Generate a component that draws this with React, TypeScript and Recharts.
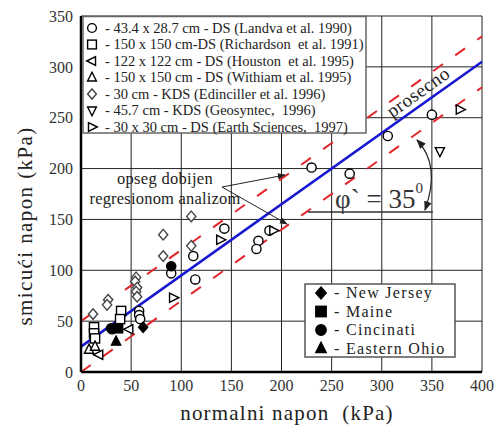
import { ScatterChart, Scatter, XAxis, YAxis, CartesianGrid, ReferenceLine } from "recharts"

const xTicks = [0, 50, 100, 150, 200, 250, 300, 350, 400]
const yTicks = [0, 50, 100, 150, 200, 250, 300, 350]

// [x0, y0, x1, y1] of the fitted lines
const upperBound = [0, 50, 400, 330]
const meanLine = [0, 25, 400, 305]
const lowerBound = [0, 0, 400, 280]

// measured points [normal stress, shear stress]
const landva = [
  [230, 201], [268, 195], [306, 232], [350, 253], [143, 141], [177, 129], [175, 121],
  [188, 139], [112, 114], [114, 91], [90, 97], [58, 60], [58, 56], [59, 52], [31, 42],
]
const richardson = [[40, 60], [39, 52], [13, 44], [13, 38], [14, 33]]
const houston = [[18, 17], [48, 42]]
const withiam = [[8, 22], [14, 25]]
const edinciller = [
  [110, 153], [110, 124], [82, 135], [82, 114], [55, 93], [54, 89], [56, 83], [55, 79],
  [56, 74], [27, 71], [26, 66], [12, 57],
]
const geosyntec = [[358, 217]]
const earthSciences = [[92, 73], [139, 130], [192, 139], [378, 258]]
const newJersey = [[62, 44]]
const maine = [[37, 43]]
const cincinati = [[90, 104], [30, 43]]
const easternOhio = [[35, 30]]

const topLabels = [
  "- 43.4 x 28.7 cm - DS (Landva et al. 1990)",
  "- 150 x 150 cm-DS (Richardson  et al. 1991)",
  "- 122 x 122 cm - DS (Houston  et al. 1995)",
  "- 150 x 150 cm - DS (Withiam et al. 1995)",
  "- 30 cm - KDS (Edinciller et al. 1996)",
  "- 45.7 cm - KDS (Geosyntec,  1996)",
  "- 30 x 30 cm - DS (Earth Sciences,  1997)",
]
const bottomLabels = ["- New Jersey", "- Maine", "- Cincinati", "- Eastern Ohio"]

const series = [
  { data: landva, kind: "circle", filled: false },
  { data: richardson, kind: "square", filled: false },
  { data: houston, kind: "left", filled: false },
  { data: withiam, kind: "up", filled: false },
  { data: edinciller, kind: "diamond", filled: false },
  { data: geosyntec, kind: "down", filled: false },
  { data: earthSciences, kind: "right", filled: false },
  { data: newJersey, kind: "diamond", filled: true },
  { data: maine, kind: "square", filled: true },
  { data: cincinati, kind: "circle", filled: true },
  { data: easternOhio, kind: "up", filled: true },
]

const FONT = "Liberation Serif, Times New Roman, DejaVu Serif, serif"

function Marker({ kind, cx, cy, filled, s = 4.6 }: any) {
  const p = {
    fill: filled ? "#000" : "#fff",
    stroke: kind === "diamond" && !filled ? "#444" : "#000",
    strokeWidth: 1.4,
  }
  switch (kind) {
    case "circle":
      return <circle cx={cx} cy={cy} r={s} {...p} />
    case "square":
      return <rect x={cx - s} y={cy - s} width={2 * s} height={2 * s} {...p} />
    case "diamond":
      return <polygon points={`${cx},${cy - s * 1.15} ${cx + s},${cy} ${cx},${cy + s * 1.15} ${cx - s},${cy}`} {...p} />
    case "up":
      return <polygon points={`${cx},${cy - s * 1.2} ${cx + s},${cy + s * 0.8} ${cx - s},${cy + s * 0.8}`} {...p} />
    case "down":
      return <polygon points={`${cx},${cy + s * 1.2} ${cx + s},${cy - s * 0.8} ${cx - s},${cy - s * 0.8}`} {...p} />
    case "left":
      return <polygon points={`${cx - s * 1.2},${cy} ${cx + s * 0.8},${cy - s} ${cx + s * 0.8},${cy + s}`} {...p} />
    default:
      return <polygon points={`${cx + s * 1.2},${cy} ${cx - s * 0.8},${cy - s} ${cx - s * 0.8},${cy + s}`} {...p} />
  }
}

const seg = (l: number[]) => [{ x: l[0], y: l[1] }, { x: l[2], y: l[3] }]

export default function App() {
  const tick = { fontSize: 16, fill: "#333", style: { fontFamily: FONT } }
  return (
    <div style={{ position: "relative", width: 479, height: 409, overflow: "visible", fontFamily: FONT }}>
      <style>{"html, body, #root { overflow: visible !important; }"}</style>
      <ScatterChart width={487} height={417} margin={{ top: 8, right: 13, bottom: 0, left: 0 }} style={{ overflow: "visible" }}>
        <CartesianGrid stroke="#222" strokeWidth={1} strokeOpacity={1} />
        <XAxis
          type="number"
          dataKey="x"
          domain={[0, 400]}
          ticks={xTicks}
          height={53}
          tickLine={false}
          axisLine={{ stroke: "#000", strokeWidth: 2.5 }}
          tick={tick}
          interval={0}
        />
        <YAxis
          type="number"
          dataKey="y"
          domain={[0, 350]}
          ticks={yTicks}
          width={73}
          tickLine={false}
          axisLine={{ stroke: "#000", strokeWidth: 2.5 }}
          tick={tick}
          interval={0}
        />
        <ReferenceLine segment={seg(upperBound)} stroke="#e3262b" strokeWidth={2} strokeDasharray="12 15" />
        <ReferenceLine segment={seg(lowerBound)} stroke="#e3262b" strokeWidth={2} strokeDasharray="12 15" />
        <ReferenceLine segment={seg(meanLine)} stroke="#1818d0" strokeWidth={2.6} />
        {series.map((s, i) => (
          <Scatter
            key={i}
            data={s.data.map(([x, y]) => ({ x, y }))}
            isAnimationActive={false}
            shape={(p: any) => <Marker kind={s.kind} filled={s.filled} cx={p.cx} cy={p.cy} />}
          />
        ))}
      </ScatterChart>
      <svg width={487} height={417} style={{ position: "absolute", left: 0, top: 0, pointerEvents: "none" }}>
        <defs>
          <marker id="ah" viewBox="0 0 10 10" refX="9" refY="5" markerWidth="8" markerHeight="8" orient="auto-start-reverse">
            <path d="M0,1 L10,5 L0,9 z" fill="#222" />
          </marker>
        </defs>
        <g style={{ fontFamily: FONT }} fill="#222">
          <rect x={75} y={8.5} width={283} height={116.5} fill="#fff" stroke="#666" strokeWidth={1.5} />
          {topLabels.map((t, i) => (
            <g key={i}>
              <Marker kind={series[i].kind} filled={false} cx={84} cy={20 + i * 16.5} s={4.4} />
              <text x={97} y={20 + i * 16.5} dy="0.34em" fontSize={14.5} style={{ whiteSpace: "pre" }}>{t}</text>
            </g>
          ))}
          <rect x={297} y={276} width={150} height={73} fill="#fff" stroke="#555" strokeWidth={1.5} />
          {bottomLabels.map((t, i) => (
            <g key={i}>
              <Marker kind={series[7 + i].kind} filled cx={313} cy={285 + i * 18.5} s={5.2} />
              <text x={326} y={285 + i * 18.5} dy="0.34em" fontSize={16} letterSpacing={1.3}>{t}</text>
            </g>
          ))}
          <text x={17} y={218} fontSize={21} letterSpacing={1.4} textAnchor="middle" dominantBaseline="central" transform="rotate(-90 17 218)">smicući napon (kPa)</text>
          <text x={279} y={405} fontSize={21} letterSpacing={1.2} textAnchor="middle" dominantBaseline="central" style={{ whiteSpace: "pre" }}>normalni napon  (kPa)</text>
          <text x={410} y={84} fontSize={19} letterSpacing={0.5} textAnchor="middle" dominantBaseline="central" transform="rotate(-35.5 410 84)">prosecno</text>
          <text x={157} y={170} fontSize={16.5} letterSpacing={0.3} textAnchor="middle" dominantBaseline="central">opseg dobijen</text>
          <text x={157} y={190} fontSize={16.5} letterSpacing={0.2} textAnchor="middle" dominantBaseline="central">regresionom analizom</text>
          <line x1={214} y1={179} x2={277} y2={167} stroke="#222" strokeWidth={1} markerEnd="url(#ah)" />
          <line x1={214} y1={179} x2={279} y2={216} stroke="#222" strokeWidth={1} markerEnd="url(#ah)" />
          <text x={371} y={191} fontSize={27} textAnchor="middle" dominantBaseline="central" fill="#333">
            φ` = 35<tspan fontSize={15} dy={-11}>0</tspan>
          </text>
          <line x1={300} y1={204} x2={425} y2={204} stroke="#333" strokeWidth={1.5} />
          <path d="M409,132 Q433,157 417,202" fill="none" stroke="#222" strokeWidth={1.2} markerStart="url(#ah)" markerEnd="url(#ah)" />
        </g>
      </svg>
    </div>
  )
}
